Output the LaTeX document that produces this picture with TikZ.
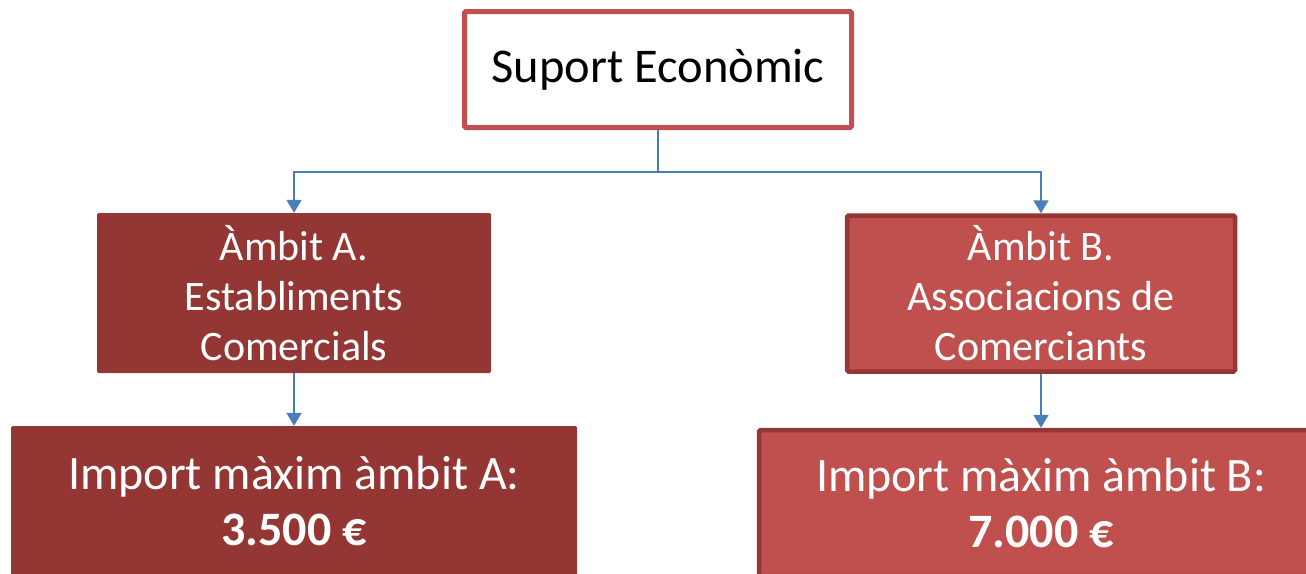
\documentclass[tikz,border=0pt]{standalone}
\usepackage{fontspec}
\setmainfont{Carlito}
\usetikzlibrary{arrows.meta}
\definecolor{darkred}{HTML}{943634}
\definecolor{midred}{HTML}{C0504D}
\definecolor{linkblue}{HTML}{4A7EBB}

\begin{document}
\begin{tikzpicture}[x=1pt, y=-1pt,
    box/.style = {rectangle, rounded corners=1.5pt, align=center, text=white},
    darkbox/.style = {box, fill=darkred},
    lightbox/.style = {box, fill=midred, draw=darkred, line width=4.5pt},
    conn/.style = {draw=linkblue, line width=2pt,
        -{Triangle[length=13pt, width=15pt]}}]
\clip (0,0) rectangle (1306,573);
\node[rectangle, rounded corners=1.5pt, draw=midred, line width=5pt, fill=white,
    minimum width=387pt, minimum height=116pt,
    font=\fontsize{48.5}{56}\selectfont] (suport) at (658,69.5) {Suport Econòmic};
\node[darkbox, minimum width=394pt, minimum height=160pt,
    font=\fontsize{42}{50}\selectfont] (ambitA) at (294,293)
    {Àmbit A.\\Establiments\\Comercials};
\node[lightbox, minimum width=388pt, minimum height=156pt,
    font=\fontsize{42}{50}\selectfont] (ambitB) at (1041,293.5)
    {Àmbit B.\\Associacions de\\Comerciants};
\node[darkbox, minimum width=566pt, minimum height=150pt,
    font=\fontsize{48}{56}\selectfont] (importA) at (294,501)
    {Import màxim àmbit A:\\\textbf{3.500 €}};
\node[lightbox, minimum width=564pt, minimum height=146pt,
    font=\fontsize{48}{56}\selectfont] (importB) at (1041,503)
    {Import màxim àmbit B:\\\textbf{7.000 €}};
\draw[conn] (suport.south) -- ++(0,42) -| (ambitA.north);
\draw[conn] (suport.south) -- ++(0,42) -| (ambitB.north);
\draw[conn] (ambitA.south) -- (importA.north);
\draw[conn] (ambitB.south) -- (importB.north);
\end{tikzpicture}
\end{document}
